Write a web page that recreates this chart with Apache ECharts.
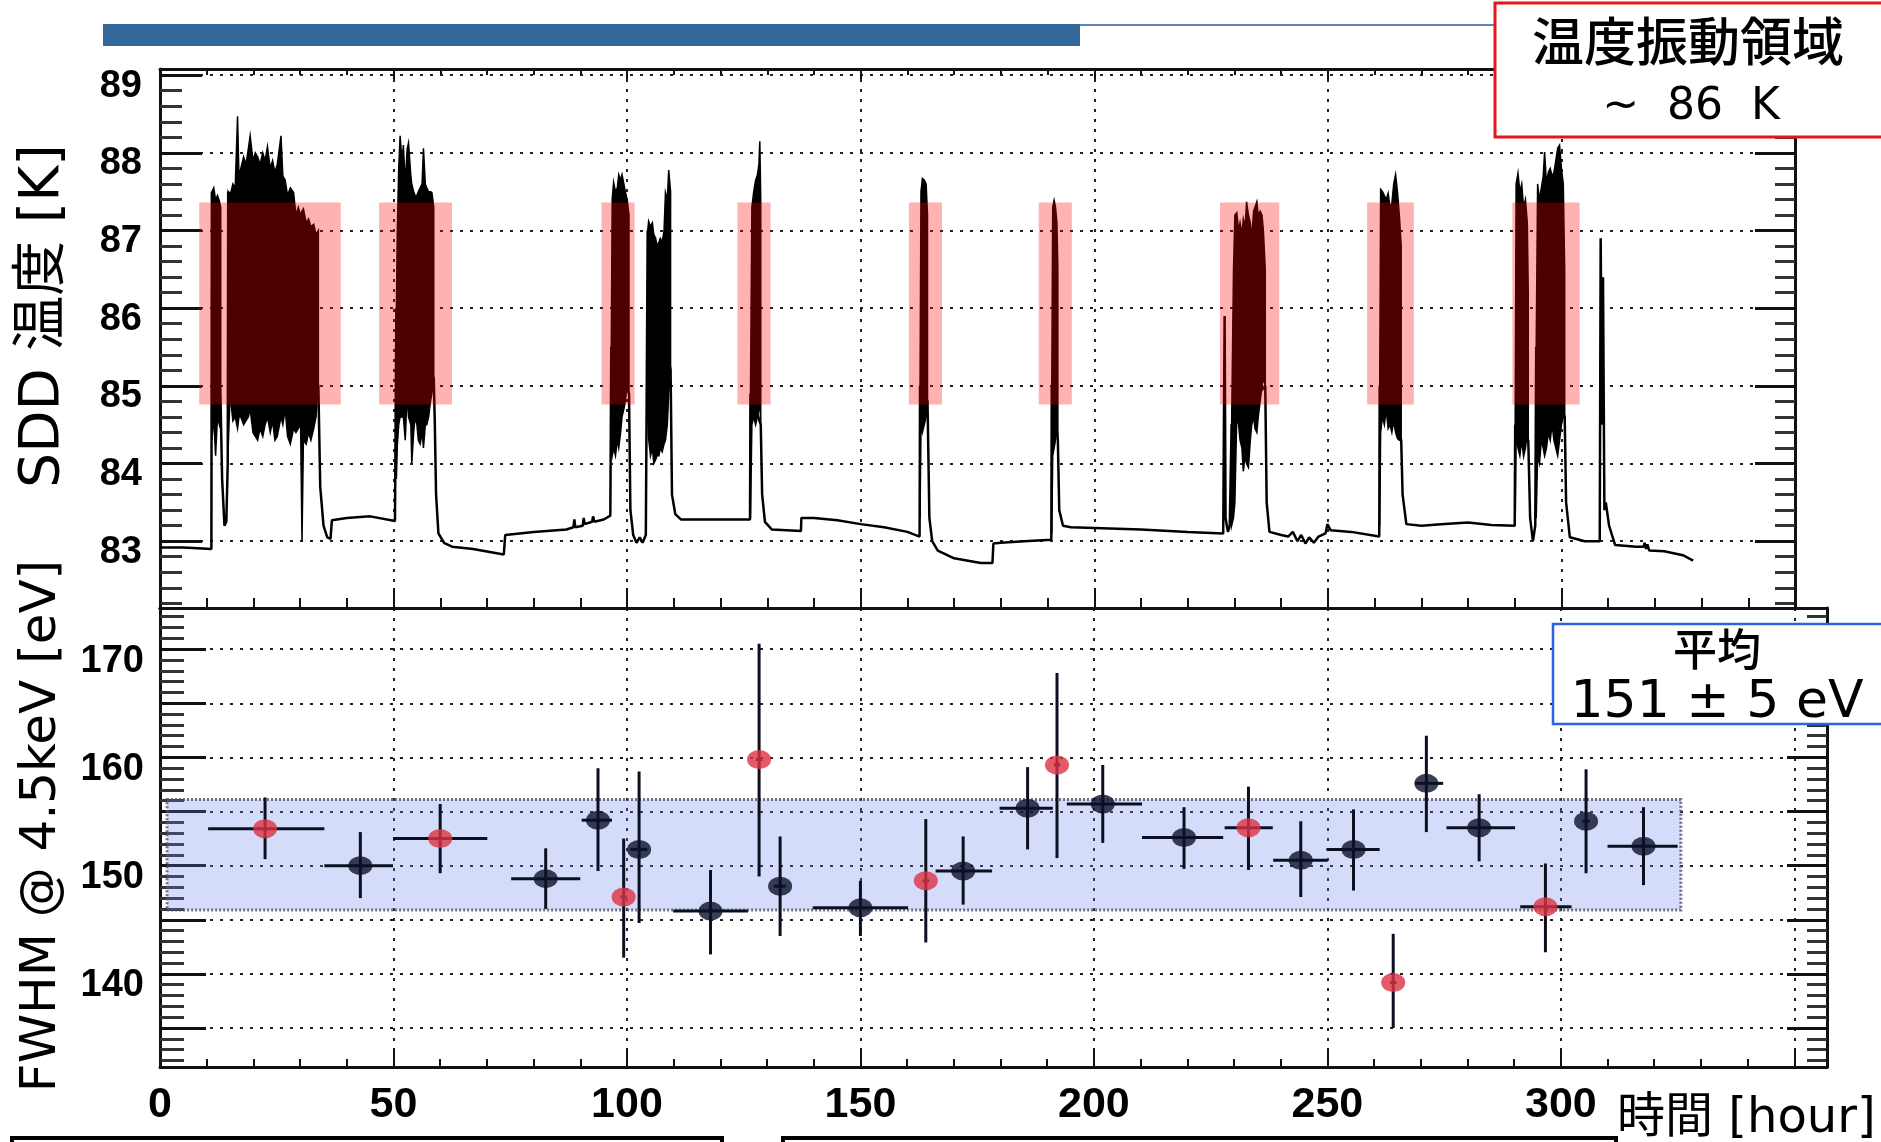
<!DOCTYPE html>
<html><head><meta charset="utf-8">
<script src="https://cdn.jsdelivr.net/npm/echarts@6/dist/echarts.min.js"></script>
<style>html,body{margin:0;padding:0;background:#fff;}#c{width:1881px;height:1142px;}</style>
</head><body><div id="c"></div>
<script>
// ---------------- DATA ----------------
// SDD temperature trace (hour, K) - smooth / baseline parts
const tempTrace = [
[0,82.92],[5,82.92],[11.0,82.9],[11.1,87.5],
[13.0,84.7],[13.3,83.8],[13.8,83.2],[14.2,83.25],[14.5,84.0],[14.6,87.5],
[33.9,85.0],[34.3,83.7],[35.0,83.2],[35.8,83.05],[36.5,83.03],[36.8,83.27],[40,83.3],[45,83.32],[50.3,83.26],[50.6,86.0],
[58.6,85.1],[58.8,84.6],[59.1,83.6],[59.6,83.1],[60.8,82.98],[62.5,82.93],[67,82.9],[73.6,82.83],[73.9,83.08],[80,83.12],[87,83.15],
[88.5,83.18],[88.7,83.28],[88.9,83.18],[90.5,83.2],[90.7,83.3],[90.9,83.22],[92.5,83.25],[92.7,83.32],[93,83.25],[95,83.28],[96.4,83.33],[96.6,85.5],
[100.4,84.9],[100.7,83.4],[101.3,83.08],[102.0,82.98],[102.7,83.05],[103.3,82.98],[104.0,83.08],[104.3,83.1],[104.4,87.0],
[109.3,85.2],[109.6,83.6],[110.3,83.35],[111.5,83.28],[118,83.28],[126.3,83.28],[126.4,84.9],
[128.6,84.5],[128.9,83.6],[129.5,83.25],[131,83.15],[137.2,83.13],[137.3,83.3],[140,83.3],[145,83.27],[150,83.22],[155,83.18],[160,83.12],[162.6,83.06],[162.7,85.0],
[164.3,84.8],[164.7,83.3],[165.3,83.0],[166.5,82.88],[170,82.78],[175.7,82.72],[178.2,82.72],[178.4,82.97],[180,82.98],[185,83.0],[190.8,83.02],[190.9,85.0],
[192.2,84.3],[192.5,83.4],[193.3,83.2],[195,83.18],[200,83.17],[210,83.15],[220,83.12],[227.6,83.1],[227.9,85.9],[228.1,83.3],[228.6,83.12],[229.0,83.2],[229.4,84.5],
[236.6,85.0],[236.9,83.5],[237.5,83.12],[240,83.08],[241.5,83.06],[242.5,83.12],[243.5,83.0],[244.3,83.08],[245.2,82.97],[246,83.05],[247,82.98],[248,83.06],[249.5,83.1],[249.9,83.22],[250.6,83.14],[255,83.12],[261.0,83.06],[261.1,85.0],
[265.7,84.3],[266.0,83.6],[266.8,83.22],[270,83.2],[275,83.22],[280,83.24],[285,83.21],[290.0,83.2],[290.1,84.5],
[292.9,84.3],[293.3,83.3],[293.9,83.0],[294.4,83.2],[294.6,85.5],
[300.7,84.6],[301.0,83.5],[301.8,83.05],[305,83.0],[308.2,83.0],[308.4,86.9],[308.7,84.5],[308.9,86.4],[309.2,83.4],[309.5,83.5],[310.2,83.2],[311.5,82.95],[316,82.93],[317.6,82.93],[317.8,82.98],[318.1,82.9],[318.4,82.96],[318.8,82.88],[322,82.87],[326,82.82],[328.2,82.75]
];
// oscillation bursts: [hour, upper envelope K, lower envelope K]
const burst1a = [[11.1,87.5,84.3],[11.5,87.55,84.6],[11.9,87.4,84.1],[12.3,87.45,84.6],[12.7,87.38,84.5],[13.0,87.3,84.7]];
const burst1b = [[14.6,87.5,84.2],[15.0,87.45,84.9],[15.6,87.6,84.55],[16.1,87.55,84.6],[16.6,88.47,84.45],[16.9,87.7,84.6],[17.3,87.8,84.6],[17.9,87.95,84.5],[18.4,87.85,84.55],[18.9,88.05,84.6],[19.3,88.22,84.7],[19.9,87.9,84.4],[20.4,88.0,84.35],[20.9,87.95,84.3],[21.4,87.85,84.45],[22.0,88.0,84.35],[22.5,87.9,84.5],[23.0,88.08,84.6],[23.6,87.8,84.4],[24.1,87.9,84.55],[24.6,87.75,84.3],[25.1,87.85,84.35],[25.9,88.22,84.6],[26.3,87.7,84.5],[26.8,87.65,84.7],[27.3,87.45,84.35],[27.9,87.55,84.25],[28.6,87.49,84.45],[29.1,87.2,84.4],[29.6,87.3,84.45],[30.1,87.2,84.5],[30.4,87.25,83.0],[30.7,87.28,84.3],[31.3,87.1,84.25],[31.8,87.15,84.4],[32.3,87.05,84.3],[32.9,87.08,84.45],[33.4,86.95,84.6],[33.9,87.0,85.0]];
const burst2 = [[50.6,86.0,83.8],[50.8,87.0,84.23],[51.1,87.8,84.5],[51.4,88.22,84.6],[51.8,87.9,84.6],[52.1,88.1,84.6],[52.5,87.6,84.3],[52.9,88.05,84.9],[53.2,88.13,84.6],[53.7,87.7,84.5],[53.9,87.6,84.0],[54.3,87.5,84.4],[54.6,87.45,84.6],[55.0,87.45,84.5],[55.3,87.5,84.3],[55.7,87.55,84.25],[56.1,87.6,84.4],[56.4,88.06,84.2],[56.8,87.6,84.5],[57.1,87.55,84.5],[57.5,87.5,84.6],[57.9,87.5,84.8],[58.2,87.49,84.9],[58.6,87.3,85.1]];
const burst3 = [[96.6,85.5,84.2],[96.8,87.4,84.1],[97.1,87.62,84.2],[97.5,87.5,84.1],[97.9,87.55,84.3],[98.2,87.72,84.2],[98.6,87.65,84.4],[98.9,87.72,84.6],[99.3,87.6,84.7],[99.6,87.5,84.8],[100.0,87.4,85.0],[100.4,87.2,84.9]];
const burst4 = [[104.4,87.0,84.6],[104.6,87.12,84.32],[105.0,87.05,84.1],[105.4,87.1,84.2],[105.7,86.95,84.0],[106.1,86.9,84.05],[106.4,86.8,84.1],[106.8,86.85,84.1],[107.1,86.9,84.2],[107.5,86.85,84.15],[107.9,87.0,84.25],[108.2,87.49,84.3],[108.6,87.4,84.5],[108.9,87.78,84.9],[109.3,87.5,85.2]];
const burst5 = [[126.4,84.9,83.3],[126.7,87.3,84.5],[127.1,87.5,84.6],[127.5,87.65,84.5],[127.9,87.72,84.6],[128.2,87.85,84.7],[128.4,88.15,84.8],[128.6,87.4,84.5]];
const burst6 = [[162.7,85.0,83.3],[162.9,87.5,84.5],[163.2,87.67,84.4],[163.6,87.65,84.5],[164.0,87.6,84.6],[164.3,87.2,84.8]];
const burst7 = [[190.9,85.0,83.1],[191.1,87.3,84.1],[191.4,87.39,84.2],[191.7,87.3,84.3],[192.0,87.1,84.5],[192.2,86.5,84.3]];
const burst8 = [[229.4,84.5,83.2],[229.8,86.5,83.3],[230.1,87.2,83.5],[230.5,87.23,84.6],[230.9,87.0,84.5],[231.2,87.1,84.3],[231.6,86.95,84.2],[231.9,87.15,83.9],[232.3,87.05,84.1],[232.6,87.37,84.0],[233.0,87.2,83.95],[233.4,87.1,84.3],[233.7,86.9,84.5],[234.1,87.25,84.6],[234.4,87.3,84.45],[234.8,87.37,84.4],[235.1,87.2,84.6],[235.5,87.25,84.8],[235.9,87.2,85.0],[236.2,87.0,85.1],[236.6,86.5,85.0]];
const burst9 = [[261.1,85.0,83.2],[261.3,87.53,84.4],[261.7,87.5,84.6],[262.1,87.45,84.5],[262.5,87.4,84.7],[262.9,87.48,84.45],[263.3,87.3,84.5],[263.7,87.35,84.4],[264.1,87.6,84.55],[264.5,87.72,84.4],[264.9,87.5,84.32],[265.3,87.2,84.3],[265.7,86.8,84.3]];
const burst10a = [[290.1,84.5,83.2],[290.3,87.6,84.4],[290.7,87.74,84.2],[291.1,87.5,84.1],[291.5,87.6,84.3],[291.9,87.3,84.09],[292.3,87.4,84.2],[292.7,87.1,84.4],[292.9,86.2,84.3]];
const burst10b = [[294.6,85.5,83.3],[294.9,87.6,84.1],[295.3,87.4,84.0],[295.7,87.55,84.3],[296.1,87.7,84.2],[296.4,88.01,84.1],[296.8,87.6,84.2],[297.2,87.75,84.4],[297.6,87.8,84.3],[298.0,87.7,84.5],[298.4,87.75,84.3],[298.8,87.9,84.2],[299.2,88.06,84.1],[299.6,88.1,84.3],[300.0,87.8,84.5],[300.4,87.6,84.6],[300.7,86.5,84.6]];
const burstList = [burst1a, burst1b, burst2, burst3, burst4, burst5, burst6, burst7, burst8, burst9, burst10a, burst10b];

// red "oscillation region" boxes (hour range) and K range
const boxStart = [8.4, 46.9, 94.5, 123.6, 160.3, 188.1, 226.9, 258.4, 289.5];
const boxEnd   = [38.7, 62.5, 101.6, 130.7, 167.4, 195.2, 239.6, 268.4, 303.9];
const oscLow = 84.76, oscHigh = 87.36;

// FWHM @ 4.5 keV measurements
const fwhmTime  = [22.5, 42.9, 60.0, 82.6, 93.8, 99.3, 102.6, 117.9, 128.3, 132.8, 150.0, 164.0, 172.0, 185.8, 192.1, 201.9, 219.3, 233.1, 244.3, 255.6, 264.1, 271.2, 282.5, 296.7, 305.4, 317.7];
const fwhmValue = [153.4, 150.0, 152.5, 148.8, 154.2, 147.1, 151.5, 145.8, 159.8, 148.1, 146.1, 148.6, 149.5, 155.3, 159.3, 155.7, 152.6, 153.5, 150.5, 151.5, 139.2, 157.6, 153.5, 146.2, 154.1, 151.8];
const fwhmLow   = [150.6, 147.0, 149.3, 146.0, 149.5, 141.5, 144.7, 141.8, 149.0, 143.5, 143.5, 142.9, 146.4, 151.5, 150.7, 152.1, 149.7, 149.6, 147.1, 147.7, 135.0, 153.1, 150.4, 142.0, 149.3, 148.2];
const fwhmHigh  = [156.3, 153.1, 155.7, 151.6, 159.0, 152.5, 158.7, 149.6, 170.5, 152.7, 148.6, 154.3, 152.7, 159.1, 167.8, 159.3, 155.4, 157.3, 154.1, 155.2, 143.7, 162.0, 156.6, 150.2, 158.9, 155.4];
const timeLow   = [10.3, 35.2, 49.9, 75.2, 90.3, 98.6, 100.7, 109.9, 127.6, 131.5, 139.8, 163.3, 166.1, 179.8, 191.4, 194.2, 210.3, 228.0, 238.4, 249.8, 263.4, 268.8, 275.5, 291.3, 304.6, 310.0];
const timeHigh  = [35.2, 49.9, 70.1, 90.0, 96.8, 100.0, 104.4, 125.9, 129.0, 134.0, 160.2, 164.7, 178.2, 191.2, 192.8, 210.3, 227.7, 238.3, 250.1, 261.2, 264.8, 274.8, 290.2, 302.3, 306.2, 325.0];
const inOscRegion = [1,0,1,0,0,1,0,0,1,0,0,1,0,0,1,0,0,1,0,0,1,0,0,1,0,0];

// mean band
const bandStart = 1.5, bandEnd = 325.7, bandLow = 145.9, bandHigh = 156.1;

// text
const yTitleTop = 'SDD 温度 [K]';
const yTitleBottom = 'FWHM @ 4.5keV [eV]';
const xTitle = '時間 [hour]';
const oscLabel1 = '温度振動領域', oscLabel2 = '~  86  K';
const meanLabel1 = '平均', meanLabel2 = '151 ± 5 eV';

// ---------------- CHART ----------------
const AX = '#111';
const DOT = [3, 7];
const numFont = '"Liberation Sans", Arial, sans-serif';
const txtFont = '"DejaVu Sans", "Noto Sans CJK JP", sans-serif';

function frameAxis(extra) {
  return Object.assign({
    type: 'value',
    axisLine: {show: true, onZero: false, lineStyle: {color: AX, width: 3}},
    splitLine: {show: false},
    axisLabel: {show: false}
  }, extra);
}

const chart = echarts.init(document.getElementById('c'), null, {renderer: 'canvas'});

const blackIdx = [], redIdx = [];
inOscRegion.forEach((f, i) => (f ? redIdx : blackIdx).push(i));

const option = {
  animation: false,
  backgroundColor: '#fff',
  grid: [
    {left: 160, top: 69, width: 1635, height: 539, outerBoundsMode: 'none', containLabel: false},
    {left: 160, top: 608, width: 1667, height: 459, outerBoundsMode: 'none', containLabel: false}
  ],
  xAxis: [
    frameAxis({gridIndex: 0, min: 0, max: 350, interval: 50, position: 'bottom',
      axisTick: {show: true, inside: true, length: 20, lineStyle: {color: AX, width: 2}},
      minorTick: {show: true, splitNumber: 5, length: 10, lineStyle: {color: AX, width: 2}},
      splitLine: {show: true, lineStyle: {color: '#222', width: 2, type: DOT}}}),
    frameAxis({gridIndex: 0, min: 0, max: 350, interval: 50, position: 'top',
      axisTick: {show: true, inside: true, length: 10, lineStyle: {color: AX, width: 2}},
      minorTick: {show: true, splitNumber: 5, length: 6, lineStyle: {color: AX, width: 2}}}),
    frameAxis({gridIndex: 1, min: 0, max: 357, interval: 50, position: 'bottom',
      axisTick: {show: true, inside: true, length: 18, lineStyle: {color: AX, width: 2}},
      minorTick: {show: true, splitNumber: 5, length: 8, lineStyle: {color: AX, width: 2}},
      splitLine: {show: true, lineStyle: {color: '#222', width: 2, type: DOT}},
      axisLabel: {show: true, color: '#000', fontSize: 43, fontWeight: 'bold', fontFamily: numFont, margin: 17, showMaxLabel: false,
        formatter: v => (v % 50 === 0 && v <= 300 ? String(v) : '')}}),
    frameAxis({gridIndex: 1, min: 0, max: 357, interval: 50, position: 'top', axisTick: {show: false}})
  ],
  yAxis: [
    frameAxis({gridIndex: 0, min: 82.14, max: 89.08, splitNumber: 7, position: 'left',
      axisTick: {show: true, inside: true, length: 42, lineStyle: {color: AX, width: 3}},
      minorTick: {show: true, splitNumber: 5, length: 22, lineStyle: {color: '#333', width: 3}},
      splitLine: {show: true, lineStyle: {color: '#222', width: 2, type: DOT}},
      axisLabel: {show: true, color: '#000', fontSize: 38, fontWeight: 'bold', fontFamily: numFont, margin: 18,
        showMinLabel: false, showMaxLabel: false, verticalAlign: 'top', lineHeight: 22,
        formatter: v => (Math.abs(v - Math.round(v)) < 1e-6 ? String(Math.round(v)) : '')}}),
    frameAxis({gridIndex: 0, min: 82.14, max: 89.08, splitNumber: 7, position: 'right',
      axisTick: {show: true, inside: true, length: 40, lineStyle: {color: AX, width: 3}},
      minorTick: {show: true, splitNumber: 5, length: 20, lineStyle: {color: '#333', width: 3}}}),
    frameAxis({gridIndex: 1, min: 131.4, max: 173.8, splitNumber: 8, position: 'left',
      axisTick: {show: true, inside: true, length: 46, lineStyle: {color: AX, width: 3}},
      minorTick: {show: true, splitNumber: 5, length: 24, lineStyle: {color: '#333', width: 3}},
      splitLine: {show: true, lineStyle: {color: '#222', width: 2, type: DOT}},
      axisLabel: {show: true, color: '#000', fontSize: 38, fontWeight: 'bold', fontFamily: numFont, margin: 16,
        showMinLabel: false, showMaxLabel: false, verticalAlign: 'top', lineHeight: 24,
        formatter: v => (Math.abs(v % 10) < 1e-6 ? String(Math.round(v)) : '')}}),
    frameAxis({gridIndex: 1, min: 131.4, max: 173.8, splitNumber: 8, position: 'right',
      axisTick: {show: true, inside: true, length: 40, lineStyle: {color: AX, width: 3}},
      minorTick: {show: true, splitNumber: 5, length: 20, lineStyle: {color: '#333', width: 3}}})
  ],
  series: [
    {
      type: 'line', name: 'trace', xAxisIndex: 0, yAxisIndex: 0, data: tempTrace,
      showSymbol: false, symbol: 'none', lineStyle: {color: '#000', width: 2.5}, z: 3, silent: true
    },
    {
      type: 'custom', name: 'bursts', xAxisIndex: 0, yAxisIndex: 0,
      data: burstList.map((b, i) => [b[0][0], b[0][1], i]),
      encode: {x: 0, y: 1}, z: 3, silent: true,
      renderItem: function (params, api) {
        const b = burstList[api.value(2)];
        const pts = [];
        for (let k = 0; k < b.length; k++) pts.push(api.coord([b[k][0], b[k][1]]));
        for (let k = b.length - 1; k >= 0; k--) pts.push(api.coord([b[k][0], b[k][2]]));
        return {type: 'polygon', shape: {points: pts}, style: {fill: '#000', stroke: '#000', lineWidth: 1.5}};
      }
    },
    {
      type: 'custom', name: 'oscBoxes', xAxisIndex: 0, yAxisIndex: 0,
      data: boxStart.map((s, i) => [s, boxEnd[i], oscLow, oscHigh]),
      encode: {x: [0, 1], y: [2, 3]}, z: 5, silent: true,
      renderItem: function (params, api) {
        const p0 = api.coord([api.value(0), api.value(3)]);
        const p1 = api.coord([api.value(1), api.value(2)]);
        return {type: 'rect', shape: {x: p0[0], y: p0[1], width: p1[0] - p0[0], height: p1[1] - p0[1]},
          style: {fill: 'rgba(255,0,0,0.3)'}};
      }
    },
    {
      type: 'custom', name: 'band', xAxisIndex: 2, yAxisIndex: 2,
      data: [[bandStart, bandEnd, bandLow, bandHigh]],
      encode: {x: [0, 1], y: [2, 3]}, z: 2, silent: true,
      renderItem: function (params, api) {
        const p0 = api.coord([api.value(0), api.value(3)]);
        const p1 = api.coord([api.value(1), api.value(2)]);
        return {type: 'rect', shape: {x: p0[0], y: p0[1], width: p1[0] - p0[0], height: p1[1] - p0[1]},
          style: {fill: 'rgba(100,130,235,0.28)', stroke: 'rgba(80,80,110,0.8)', lineWidth: 3, lineDash: [2, 2]}};
      }
    },
    {
      type: 'custom', name: 'errors', xAxisIndex: 2, yAxisIndex: 2,
      data: fwhmTime.map((t, i) => [t, fwhmValue[i], fwhmLow[i], fwhmHigh[i], timeLow[i], timeHigh[i]]),
      encode: {x: [0, 4, 5], y: [1, 2, 3]}, z: 4, silent: true,
      renderItem: function (params, api) {
        const t = api.value(0), v = api.value(1);
        const a = api.coord([t, api.value(2)]), b = api.coord([t, api.value(3)]);
        const c = api.coord([api.value(4), v]), d = api.coord([api.value(5), v]);
        const st = {stroke: '#0b1020', lineWidth: 3};
        return {type: 'group', children: [
          {type: 'line', shape: {x1: a[0], y1: a[1], x2: b[0], y2: b[1]}, style: st},
          {type: 'line', shape: {x1: c[0], y1: c[1], x2: d[0], y2: d[1]}, style: st}
        ]};
      }
    },
    {
      type: 'scatter', name: 'stable', xAxisIndex: 2, yAxisIndex: 2,
      data: blackIdx.map(i => [fwhmTime[i], fwhmValue[i]]),
      symbol: 'circle', symbolSize: [24, 19], itemStyle: {color: '#0a1128'}, z: 6, silent: true
    },
    {
      type: 'scatter', name: 'oscillating', xAxisIndex: 2, yAxisIndex: 2,
      data: redIdx.map(i => [fwhmTime[i], fwhmValue[i]]),
      symbol: 'circle', symbolSize: [24, 19], itemStyle: {color: '#dc3242'}, z: 6, silent: true
    }
  ],
  graphic: [
    {type: 'rect', z: 100, shape: {x: 103, y: 24, width: 977, height: 22}, style: {fill: '#346799'}},
    {type: 'line', z: 100, shape: {x1: 1080, y1: 25, x2: 1495, y2: 25}, style: {stroke: '#5b86b8', lineWidth: 2}},
    {type: 'rect', z: 100, shape: {x: 1495, y: 3, width: 400, height: 134}, style: {fill: '#fff', stroke: '#e8141c', lineWidth: 3}},
    {type: 'text', z: 101, x: 1688, y: 47, style: {text: oscLabel1, fill: '#000', font: '500 52px ' + txtFont, textAlign: 'center', textVerticalAlign: 'middle', align: 'center', verticalAlign: 'middle'}},
    {type: 'text', z: 101, x: 1691, y: 108, style: {text: oscLabel2, fill: '#000', font: '44px ' + txtFont, textAlign: 'center', textVerticalAlign: 'middle', align: 'center', verticalAlign: 'middle'}},
    {type: 'rect', z: 100, shape: {x: 1553, y: 624, width: 340, height: 100}, style: {fill: '#fff', stroke: '#2e62e6', lineWidth: 2.5}},
    {type: 'text', z: 101, x: 1717, y: 655, style: {text: meanLabel1, fill: '#000', font: '500 44px ' + txtFont, textAlign: 'center', textVerticalAlign: 'middle', align: 'center', verticalAlign: 'middle'}},
    {type: 'text', z: 101, x: 1717, y: 703, style: {text: meanLabel2, fill: '#000', font: '52px ' + txtFont, textAlign: 'center', textVerticalAlign: 'middle', align: 'center', verticalAlign: 'middle'}},
    {type: 'text', z: 101, x: 44, y: 316, rotation: Math.PI / 2, style: {text: yTitleTop, fill: '#000', font: '55px ' + txtFont, textAlign: 'center', textVerticalAlign: 'middle', align: 'center', verticalAlign: 'middle'}},
    {type: 'text', z: 101, x: 42, y: 826, rotation: Math.PI / 2, style: {text: yTitleBottom, fill: '#000', font: '50px ' + txtFont, textAlign: 'center', textVerticalAlign: 'middle', align: 'center', verticalAlign: 'middle'}},
    {type: 'text', z: 101, x: 1617, y: 1120, style: {text: xTitle, fill: '#000', font: '48px ' + txtFont, textAlign: 'left', textVerticalAlign: 'middle', align: 'left', verticalAlign: 'middle'}},
    {type: 'rect', z: 100, shape: {x: 12, y: 1138, width: 710, height: 30}, style: {fill: 'none', stroke: '#000', lineWidth: 4}},
    {type: 'rect', z: 100, shape: {x: 783, y: 1138, width: 833, height: 30}, style: {fill: 'none', stroke: '#000', lineWidth: 4}}
  ]
};
chart.setOption(option);
</script></body></html>
